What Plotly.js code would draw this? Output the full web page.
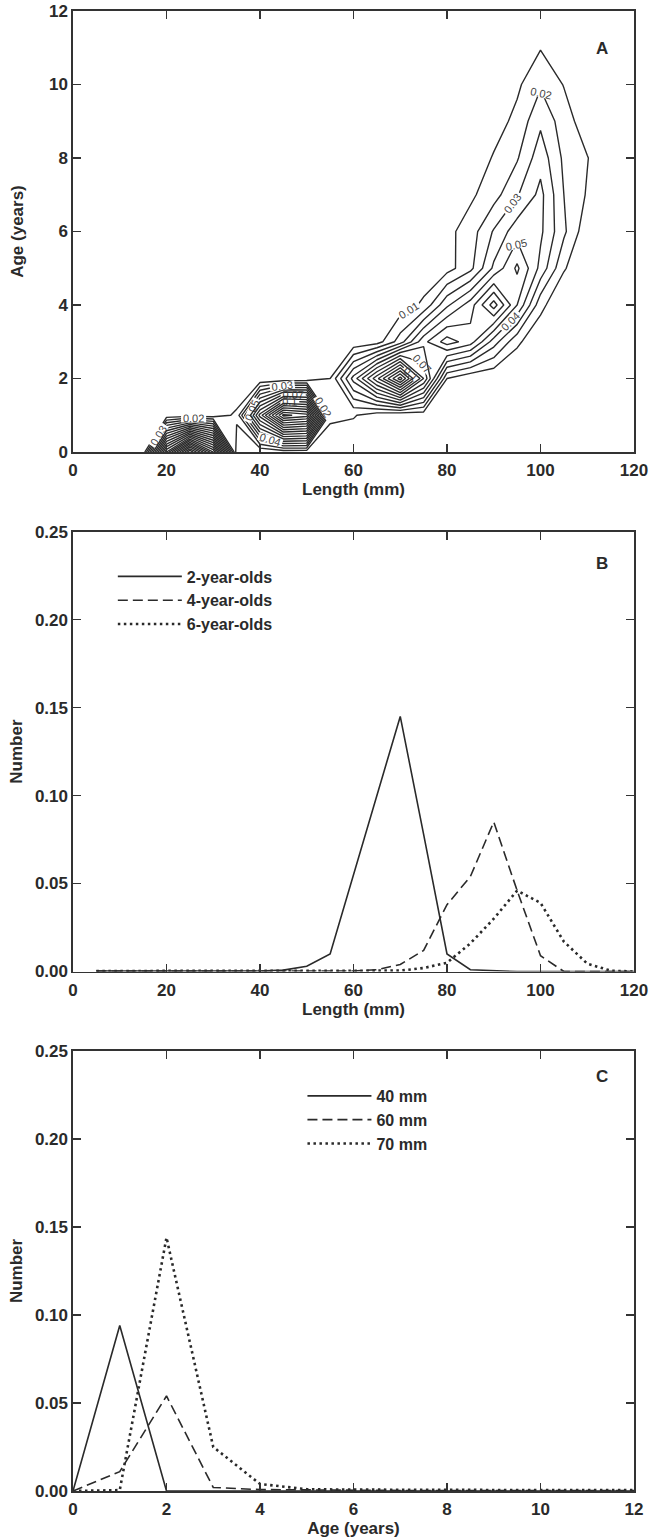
<!DOCTYPE html>
<html>
<head>
<meta charset="utf-8">
<script src="https://cdn.plot.ly/plotly-3.0.1.min.js"></script>
<style>html,body{margin:0;padding:0;background:#fff;}#chart{width:649px;height:1538px;}</style>
</head>
<body>
<div id="chart"></div>
<script>
// ---------- Panel A: contour grid (length in mm x age in years) ----------
const lengthsA = [0,5,10,15,20,25,30,35,40,45,50,55,60,65,70,75,80,85,90,95,100,105,110,115,120];
const agesA = [0,1,2,3,4,5,6,7,8,9,10,11,12];
const densityA = [
  [0,0,0,0,0.14,0.23,0.16,0.004,0,0.003,0.003,0,0,0,0,0,0,0,0,0,0,0,0,0,0],
  [0,0,0,0,0.002,0.003,0.004,0.012,0.094,0.163,0.155,0.013,0.011,0.004,0.0005,0.003,0.001,0,0,0,0,0,0,0,0],
  [0,0,0,0,0,0,0,0,0,0,0.002,0.01,0.054,0.097,0.145,0.08,0.01,0.001,0.0003,0,0,0,0,0,0],
  [0,0,0,0,0,0,0,0,0,0,0,0,0.002,0.005,0.025,0.057,0.075,0.065,0.035,0.012,0.002,0,0,0,0],
  [0,0,0,0,0,0,0,0,0,0,0,0,0.0005,0.001,0.004,0.012,0.038,0.055,0.085,0.05,0.013,0.0005,0,0,0],
  [0,0,0,0,0,0,0,0,0,0,0,0,0,0,0.001,0.003,0.006,0.017,0.042,0.062,0.037,0.011,0.001,0,0],
  [0,0,0,0,0,0,0,0,0,0,0,0,0,0,0.001,0.003,0.007,0.015,0.031,0.046,0.042,0.022,0.003,0,0],
  [0,0,0,0,0,0,0,0,0,0,0,0,0,0,0,0,0.002,0.008,0.016,0.029,0.043,0.02,0.009,0,0],
  [0,0,0,0,0,0,0,0,0,0,0,0,0,0,0,0,0,0.002,0.011,0.019,0.036,0.018,0.0105,0,0],
  [0,0,0,0,0,0,0,0,0,0,0,0,0,0,0,0,0,0,0.005,0.013,0.028,0.015,0.004,0,0],
  [0,0,0,0,0,0,0,0,0,0,0,0,0,0,0,0,0,0,0,0.008,0.0188,0.0095,0.001,0,0],
  [0,0,0,0,0,0,0,0,0,0,0,0,0,0,0,0,0,0,0,0.002,0.0094,0.002,0,0,0],
  [0,0,0,0,0,0,0,0,0,0,0,0,0,0,0,0,0,0,0,0,0,0,0,0,0]
];
// contour level groups: [start, end, labelled, step]
const levelGroups = [
  [0.01,0.05,true,0.01],[0.06,0.06,false,0.01],[0.07,0.07,true,0.01],[0.08,0.09,false,0.01],
  [0.10,0.20,true,0.05],[0.11,0.14,false,0.01],[0.16,0.19,false,0.01],[0.21,0.24,false,0.01]
];

// ---------- Panel B: number vs length for age classes ----------
const lengthsB = [5,10,15,20,25,30,35,40,45,50,55,60,65,70,75,80,85,90,95,100,105,110,115,120];
const twoYearOlds  = [0.0002,0.0002,0.0002,0.0002,0.0002,0.0002,0.0002,0.0003,0.0008,0.003,0.01,0.055,0.1,0.145,0.078,0.01,0.001,0.0003,0,0,0,0,0,0];
const fourYearOlds = [0.0002,0.0002,0.0002,0.0002,0.0002,0.0002,0.0002,0.0002,0.0002,0.0002,0.0002,0.0003,0.001,0.004,0.012,0.038,0.054,0.085,0.046,0.009,0,0,0,0];
const sixYearOlds  = [0.0003,0.0003,0.0003,0.0003,0.0003,0.0003,0.0003,0.0003,0.0003,0.0003,0.0003,0.0003,0.0003,0.0005,0.002,0.005,0.016,0.03,0.046,0.039,0.017,0.0045,0.0005,0];
const legendB = ['2-year-olds','4-year-olds','6-year-olds'];

// ---------- Panel C: number vs age for length classes ----------
const agesC = [0,1,2,3,4,5,6,7,8,9,10,11,12];
const mm40 = [0,0.094,0,0,0,0,0,0,0,0,0,0,0];
const mm60 = [0,0.011,0.054,0.002,0.0008,0.0005,0.0003,0.0003,0.0003,0.0003,0.0003,0.0003,0.0003];
const mm70 = [0,0.0005,0.144,0.025,0.004,0.001,0.0008,0.0006,0.0006,0.0006,0.0006,0.0006,0.0006];
const legendC = ['40 mm','60 mm','70 mm'];

const FONT = 'Liberation Sans, Arial, Helvetica, sans-serif';
const INK = '#2a2a2a';
const LABEL = '#444444';
const boldFont = (s) => ({family: FONT, size: s, color: INK, weight: 'bold'});

const traces = [];
levelGroups.forEach(g => {
  traces.push({
    type: 'contour', x: lengthsA, y: agesA, z: densityA,
    xaxis: 'x', yaxis: 'y', autocontour: false, showscale: false, showlegend: false,
    hoverinfo: 'skip',
    colorscale: [[0, LABEL],[1, LABEL]],
    contours: {start: g[0], end: g[1], size: g[3], coloring: 'none',
               showlabels: g[2], labelfont: {family: FONT, size: 11, color: LABEL}},
    line: {color: INK, width: 1.4, smoothing: 0}
  });
});

const styles = [
  {color: INK, width: 1.6, dash: 'solid'},
  {color: INK, width: 1.6, dash: '10px,5px'},
  {color: INK, width: 2.6, dash: '2.5px,3.5px'}
];
[twoYearOlds, fourYearOlds, sixYearOlds].forEach((ys, i) => {
  traces.push({type: 'scatter', mode: 'lines', x: lengthsB, y: ys, name: legendB[i],
    xaxis: 'x2', yaxis: 'y2', line: styles[i], legend: 'legend', hoverinfo: 'skip'});
});
[mm40, mm60, mm70].forEach((ys, i) => {
  traces.push({type: 'scatter', mode: 'lines', x: agesC, y: ys, name: legendC[i],
    xaxis: 'x3', yaxis: 'y3', line: styles[i], legend: 'legend2', hoverinfo: 'skip'});
});

function ax(extra) {
  return Object.assign({
    showline: true, linecolor: '#333', linewidth: 1.6, mirror: 'ticks',
    ticks: 'inside', ticklen: 8, tickwidth: 1.5, tickcolor: '#333',
    showgrid: false, zeroline: false, fixedrange: true,
    tickfont: boldFont(17)
  }, extra);
}

const layout = {
  width: 649, height: 1538,
  margin: {l: 73, r: 15, t: 11, b: 47},
  paper_bgcolor: '#fff', plot_bgcolor: '#fff',
  font: {family: FONT, color: INK},
  xaxis:  ax({domain: [0,1], range: [0,120], dtick: 20, tick0: 0, anchor: 'y', ticklabelstandoff: 2,
              title: {text: 'Length (mm)', font: boldFont(17), standoff: 0}}),
  yaxis:  ax({domain: [0.702,1], range: [0,12], dtick: 2, tick0: 0, anchor: 'x',
              title: {text: 'Age (years)', font: boldFont(17), standoff: 21}}),
  xaxis2: ax({domain: [0,1], range: [0,120], dtick: 20, tick0: 0, anchor: 'y2', ticklabelstandoff: 2,
              title: {text: 'Length (mm)', font: boldFont(17), standoff: 0}}),
  yaxis2: ax({domain: [0.351,0.6482], range: [0,0.25], dtick: 0.05, tick0: 0, tickformat: '.2f', anchor: 'x2',
              title: {text: 'Number', font: boldFont(17), standoff: 8}}),
  xaxis3: ax({domain: [0,1], range: [0,12], dtick: 2, tick0: 0, anchor: 'y3', ticklabelstandoff: 2,
              title: {text: 'Age (years)', font: boldFont(17), standoff: 0}}),
  yaxis3: ax({domain: [0,0.2973], range: [0,0.25], dtick: 0.05, tick0: 0, tickformat: '.2f', anchor: 'x3',
              title: {text: 'Number', font: boldFont(17), standoff: 8}}),
  legend:  {x: 0.071, y: 0.6294, xanchor: 'left', yanchor: 'top', bgcolor: 'rgba(0,0,0,0)',
            font: boldFont(16), itemwidth: 64, tracegroupgap: 0},
  legend2: {x: 0.409, y: 0.2784, xanchor: 'left', yanchor: 'top', bgcolor: 'rgba(0,0,0,0)',
            font: boldFont(16), itemwidth: 64, tracegroupgap: 0},
  annotations: [
    {text: 'A', xref: 'x domain', yref: 'y domain', x: 0.943, y: 0.916, xanchor: 'center', yanchor: 'middle', showarrow: false, font: boldFont(17)},
    {text: 'B', xref: 'x2 domain', yref: 'y2 domain', x: 0.943, y: 0.928, xanchor: 'center', yanchor: 'middle', showarrow: false, font: boldFont(17)},
    {text: 'C', xref: 'x3 domain', yref: 'y3 domain', x: 0.943, y: 0.9416, xanchor: 'center', yanchor: 'middle', showarrow: false, font: boldFont(17)}
  ]
};

Plotly.newPlot('chart', traces, layout, {staticPlot: true, displayModeBar: false});
</script>
</body>
</html>
